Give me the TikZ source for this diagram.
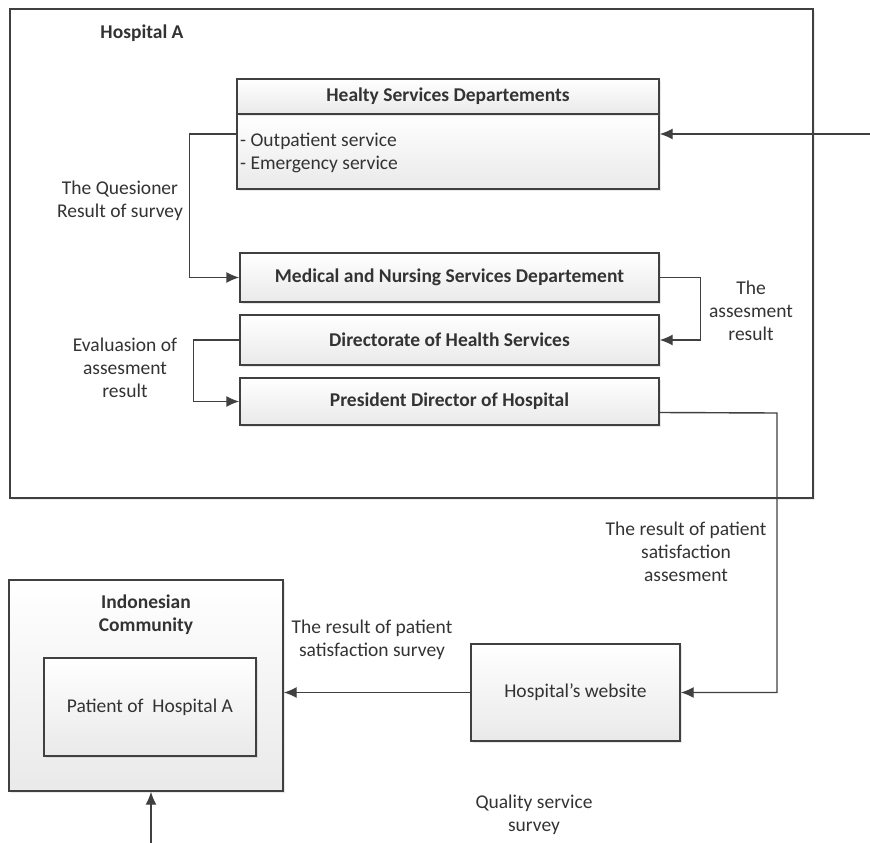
\documentclass[tikz,border=0pt]{standalone}
\usepackage{fontspec}
\setmainfont{Carlito}
\usetikzlibrary{arrows.meta,shadows,calc}
\definecolor{ln}{HTML}{404040}
\definecolor{tx}{HTML}{333333}
\newcommand{\fs}{\fontsize{19.5}{23}\selectfont}
\tikzset{
  box/.style={draw=ln, line width=1.4pt, rectangle, inner sep=0pt, top color=white, bottom color=gray!17,
    drop shadow={shadow xshift=2pt, shadow yshift=-2pt, opacity=0.18, fill=gray}},
  lbl/.style={text=tx, align=center, inner sep=0pt, font=\fs},
  bl/.style={font=\fs\bfseries, text=tx},
  arr/.style={draw=ln, line width=1.4pt, -{Latex[length=13pt,width=11pt]}}
}
\begin{document}
\begin{tikzpicture}[x=1pt,y=-1pt]
\useasboundingbox (0,0) rectangle (870,843);
% Hospital A frame
\node[draw=ln, line width=1.4pt, fill=white, inner sep=0pt, minimum width=803pt, minimum height=489pt,
  drop shadow={shadow xshift=2pt, shadow yshift=-2pt, opacity=0.15, fill=gray}] (hosp) at (411.5,253.5) {};
\node[lbl, font=\fs\bfseries] (hospl) at (142,33) {Hospital A};
% Healty services
\node[box, minimum width=422pt, minimum height=75pt] (hsbody) at (448,151.5) {};
\node[box, bl, minimum width=422pt, minimum height=35pt] (hshead) at (448,96.5) {Healty Services Departements};
\node[lbl, align=left, anchor=north west] (hslist) at (240,133) {- Outpatient service\\- Emergency service};
% departments
\node[box, bl, minimum width=419pt, minimum height=49pt] (med) at (449.5,277.5) {Medical and Nursing Services Departement};
\node[box, bl, minimum width=419pt, minimum height=50pt] (dir) at (449.5,340) {Directorate of Health Services};
\node[box, bl, minimum width=419pt, minimum height=47pt] (pres) at (449.5,401.5) {President Director of Hospital};
% website
\node[box, font=\fs, text=tx, minimum width=209pt, minimum height=97pt] (web) at (575.5,692.5) {Hospital’s website};
% community
\node[box, minimum width=274pt, minimum height=211pt] (comm) at (146,685.5) {};
\node[lbl, font=\fs\bfseries] (comml) at (146,615) {Indonesian\\Community};
\node[box, font=\fs, text=tx, minimum width=212pt, minimum height=98pt, drop shadow={opacity=0}] (pat) at (150,707) {Patient of~ Hospital A};
% labels
\node[lbl] (l1) at (120,201) {The Quesioner\\Result of survey};
\node[lbl] (l2) at (751,311) {The\\assesment\\result};
\node[lbl] (l3) at (125,368) {Evaluasion of\\assesment\\result};
\node[lbl] (l4) at (686,552) {The result of patient\\satisfaction\\assesment};
\node[lbl] (l5) at (372,640) {The result of patient\\satisfaction survey};
\node[lbl] (l6) at (534,815) {Quality service\\survey};
% connectors
\coordinate (inR) at (870,134);
\coordinate (bot) at (151,843);
\draw[arr] (inR) -- (hsbody.east |- inR);
\draw[arr] (hsbody.west |- inR) -- ++(-47,0) |- (med.west);
\draw[arr] (med.east) -- ++(41,0) |- (dir.east);
\draw[arr] (dir.west) -- ++(-46,0) |- (pres.west);
\draw[arr] ($(pres.east)+(0,11)$) -- (777,413) |- (web.east);
\draw[arr] (web.west) -- (comm.east |- web.west);
\draw[arr] (bot) -- (comm.south -| bot);
\end{tikzpicture}
\end{document}
